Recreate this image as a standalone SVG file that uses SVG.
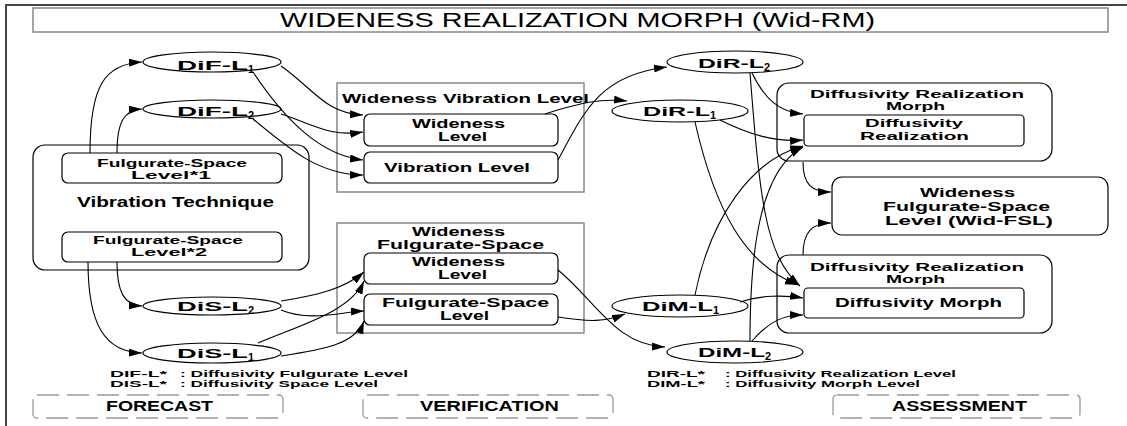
<svg xmlns="http://www.w3.org/2000/svg" width="1127" height="426" viewBox="0 0 1127 426">
<style>
.t{font-family:"Liberation Sans",Arial,sans-serif;font-weight:bold;fill:#000}
.n{font-weight:normal}
.e{font-family:"Liberation Sans",Arial,sans-serif;font-weight:bold;fill:#000;font-size:13px}
.sub{font-size:11px;fill:#000}
.box{fill:#fff;stroke:#000;stroke-width:1.2}
.gbox{fill:none;stroke:#888;stroke-width:1.5}
.ell{fill:#fff;stroke:#000;stroke-width:1.2}
.dash{fill:none;stroke:#999;stroke-width:1.3;stroke-dasharray:22 8}
.c path{fill:none;stroke:#000;stroke-width:1.1;marker-end:url(#ah)}
</style>
<defs>
<marker id="ah" markerUnits="userSpaceOnUse" markerWidth="14" markerHeight="10" refX="13" refY="4" orient="auto">
<path d="M0,0 L13,4 L0,8 z" fill="#000"/>
</marker>
</defs>
<rect width="1127" height="426" fill="#fff"/>
<path d="M6,426 V5 H1127" fill="none" stroke="#444" stroke-width="2"/>
<g id="title">
<rect x="33" y="8" width="1075" height="24" fill="#fff" stroke="#888" stroke-width="1.5"/>
<text class="t n" x="280" y="27" font-size="20" textLength="595" lengthAdjust="spacingAndGlyphs">WIDENESS REALIZATION MORPH (Wid-RM)</text>
</g>
<g id="vibration-technique">
<rect class="box" x="33" y="145" width="276" height="125" rx="12"/>
<rect class="box" x="62" y="153" width="220" height="30" rx="6"/>
<text class="t" x="97" y="167" font-size="11" textLength="150" lengthAdjust="spacingAndGlyphs">Fulgurate-Space</text>
<text class="t" x="131" y="179" font-size="11" textLength="80" lengthAdjust="spacingAndGlyphs">Level*1</text>
<text class="t" x="77" y="207" font-size="14" textLength="197" lengthAdjust="spacingAndGlyphs">Vibration Technique</text>
<rect class="box" x="62" y="232" width="220" height="30" rx="6"/>
<text class="t" x="93" y="244" font-size="11" textLength="150" lengthAdjust="spacingAndGlyphs">Fulgurate-Space</text>
<text class="t" x="131" y="256" font-size="11" textLength="76" lengthAdjust="spacingAndGlyphs">Level*2</text>
</g>
<g id="dif-l1">
<ellipse class="ell" cx="212" cy="62" rx="69" ry="10"/>
<text class="e" x="177" y="70"><tspan textLength="71" lengthAdjust="spacingAndGlyphs">DiF-L</tspan><tspan class="sub" dy="3">1</tspan></text>
</g>
<g id="dif-l2">
<ellipse class="ell" cx="212" cy="109" rx="69" ry="9"/>
<text class="e" x="177" y="116"><tspan textLength="71" lengthAdjust="spacingAndGlyphs">DiF-L</tspan><tspan class="sub" dy="3">2</tspan></text>
</g>
<g id="dis-l2">
<ellipse class="ell" cx="212" cy="306" rx="69" ry="9"/>
<text class="e" x="177" y="311"><tspan textLength="71" lengthAdjust="spacingAndGlyphs">DiS-L</tspan><tspan class="sub" dy="3">2</tspan></text>
</g>
<g id="dis-l1">
<ellipse class="ell" cx="212" cy="353" rx="69" ry="10"/>
<text class="e" x="177" y="358"><tspan textLength="71" lengthAdjust="spacingAndGlyphs">DiS-L</tspan><tspan class="sub" dy="3">1</tspan></text>
</g>
<g id="wideness-vibration-level">
<rect class="gbox" x="337" y="83" width="247" height="109"/>
<text class="t" x="342" y="103" font-size="13" textLength="247" lengthAdjust="spacingAndGlyphs">Wideness Vibration Level</text>
<rect class="box" x="364" y="114" width="194" height="32" rx="6"/>
<text class="t" x="412" y="128" font-size="12" textLength="93" lengthAdjust="spacingAndGlyphs">Wideness</text>
<text class="t" x="438" y="141" font-size="12" textLength="49" lengthAdjust="spacingAndGlyphs">Level</text>
<rect class="box" x="364" y="152" width="194" height="31" rx="6"/>
<text class="t" x="384" y="172" font-size="13" textLength="146" lengthAdjust="spacingAndGlyphs">Vibration Level</text>
</g>
<g id="wideness-fulgurate-space">
<rect class="gbox" x="337" y="223" width="247" height="110"/>
<text class="t" x="412" y="236" font-size="12" textLength="93" lengthAdjust="spacingAndGlyphs">Wideness</text>
<text class="t" x="377" y="249" font-size="12" textLength="167" lengthAdjust="spacingAndGlyphs">Fulgurate-Space</text>
<rect class="box" x="364" y="253" width="194" height="31" rx="6"/>
<text class="t" x="412" y="266" font-size="12" textLength="93" lengthAdjust="spacingAndGlyphs">Wideness</text>
<text class="t" x="438" y="279" font-size="12" textLength="49" lengthAdjust="spacingAndGlyphs">Level</text>
<rect class="box" x="364" y="294" width="194" height="31" rx="6"/>
<text class="t" x="382" y="307" font-size="12" textLength="167" lengthAdjust="spacingAndGlyphs">Fulgurate-Space</text>
<text class="t" x="440" y="320" font-size="12" textLength="49" lengthAdjust="spacingAndGlyphs">Level</text>
</g>
<g id="dir-l2">
<ellipse class="ell" cx="735" cy="62" rx="68" ry="11"/>
<text class="e" x="698" y="68"><tspan textLength="66" lengthAdjust="spacingAndGlyphs">DiR-L</tspan><tspan class="sub" dy="3">2</tspan></text>
</g>
<g id="dir-l1">
<ellipse class="ell" cx="680" cy="111" rx="68" ry="11"/>
<text class="e" x="643" y="116"><tspan textLength="67" lengthAdjust="spacingAndGlyphs">DiR-L</tspan><tspan class="sub" dy="3">1</tspan></text>
</g>
<g id="dim-l1">
<ellipse class="ell" cx="680" cy="306" rx="68" ry="11"/>
<text class="e" x="642" y="311"><tspan textLength="71" lengthAdjust="spacingAndGlyphs">DiM-L</tspan><tspan class="sub" dy="3">1</tspan></text>
</g>
<g id="dim-l2">
<ellipse class="ell" cx="735" cy="352" rx="68" ry="11"/>
<text class="e" x="698" y="357"><tspan textLength="67" lengthAdjust="spacingAndGlyphs">DiM-L</tspan><tspan class="sub" dy="3">2</tspan></text>
</g>
<g id="drm-top">
<rect class="box" x="777" y="83" width="275" height="78" rx="12"/>
<text class="t" x="810" y="98" font-size="11" textLength="214" lengthAdjust="spacingAndGlyphs">Diffusivity Realization</text>
<text class="t" x="886" y="110" font-size="11" textLength="59" lengthAdjust="spacingAndGlyphs">Morph</text>
<rect class="box" x="804" y="115" width="220" height="31" rx="4"/>
<text class="t" x="865" y="127" font-size="11" textLength="98" lengthAdjust="spacingAndGlyphs">Diffusivity</text>
<text class="t" x="860" y="140" font-size="11" textLength="109" lengthAdjust="spacingAndGlyphs">Realization</text>
</g>
<g id="wid-fsl">
<rect class="box" x="832" y="177" width="276" height="58" rx="10"/>
<text class="t" x="920" y="197" font-size="12" textLength="95" lengthAdjust="spacingAndGlyphs">Wideness</text>
<text class="t" x="883" y="211" font-size="12" textLength="167" lengthAdjust="spacingAndGlyphs">Fulgurate-Space</text>
<text class="t" x="885" y="225" font-size="12" textLength="168" lengthAdjust="spacingAndGlyphs">Level (Wid-FSL)</text>
</g>
<g id="drm-bottom">
<rect class="box" x="777" y="255" width="275" height="78" rx="12"/>
<text class="t" x="810" y="271" font-size="11" textLength="214" lengthAdjust="spacingAndGlyphs">Diffusivity Realization</text>
<text class="t" x="886" y="283" font-size="11" textLength="59" lengthAdjust="spacingAndGlyphs">Morph</text>
<rect class="box" x="804" y="288" width="220" height="30" rx="4"/>
<text class="t" x="835" y="307" font-size="13" textLength="167" lengthAdjust="spacingAndGlyphs">Diffusivity Morph</text>
</g>
<g id="legend">
<text class="t" x="110" y="377" font-size="9" textLength="57" lengthAdjust="spacingAndGlyphs">DIF-L*</text>
<text class="t" x="180" y="377" font-size="9" textLength="228" lengthAdjust="spacingAndGlyphs">: Diffusivity  Fulgurate Level</text>
<text class="t" x="110" y="387" font-size="9" textLength="57" lengthAdjust="spacingAndGlyphs">DIS-L*</text>
<text class="t" x="180" y="387" font-size="9" textLength="198" lengthAdjust="spacingAndGlyphs">: Diffusivity Space Level</text>
<text class="t" x="647" y="377" font-size="9" textLength="58" lengthAdjust="spacingAndGlyphs">DIR-L*</text>
<text class="t" x="725" y="377" font-size="9" textLength="231" lengthAdjust="spacingAndGlyphs">: Diffusivity Realization Level</text>
<text class="t" x="647" y="387" font-size="9" textLength="58" lengthAdjust="spacingAndGlyphs">DIM-L*</text>
<text class="t" x="725" y="387" font-size="9" textLength="195" lengthAdjust="spacingAndGlyphs">: Diffusivity Morph Level</text>
</g>
<g id="forecast">
<rect class="dash" x="33" y="395" width="250" height="23" rx="4"/>
<text class="t" x="106" y="411" font-size="14" textLength="107" lengthAdjust="spacingAndGlyphs">FORECAST</text>
</g>
<g id="verification">
<rect class="dash" x="363" y="395" width="250" height="23" rx="4"/>
<text class="t" x="420" y="411" font-size="14" textLength="139" lengthAdjust="spacingAndGlyphs">VERIFICATION</text>
</g>
<g id="assessment">
<rect class="dash" x="833" y="395" width="247" height="23" rx="4"/>
<text class="t" x="892" y="411" font-size="14" textLength="135" lengthAdjust="spacingAndGlyphs">ASSESSMENT</text>
</g>
<g id="connectors" class="c">
<path d="M90,153 C90,85 105,64 142,62"/>
<path d="M117,153 C117,122 124,110 142,109"/>
<path d="M281,66 C315,90 325,113 363,115"/>
<path d="M253,72 C285,120 320,155 363,160"/>
<path d="M281,114 C315,125 330,137 363,132"/>
<path d="M253,119 C290,150 320,175 363,175"/>
<path d="M117,262 C117,292 124,305 142,306"/>
<path d="M88,262 C88,325 105,352 142,353"/>
<path d="M281,301 C320,295 345,288 364,272"/>
<path d="M258,343 C300,325 350,312 364,281"/>
<path d="M281,310 C310,322 340,312 364,311"/>
<path d="M281,356 C320,350 355,345 364,321"/>
<path d="M545,114 C580,103 600,98 627,101"/>
<path d="M558,160 C585,110 600,75 667,67"/>
<path d="M558,270 C595,300 615,345 665,347"/>
<path d="M558,317 C590,322 605,322 625,314"/>
<path d="M752,73 C765,100 780,112 803,114"/>
<path d="M720,120 C750,135 775,142 803,140"/>
<path d="M695,295 C710,220 750,160 803,146"/>
<path d="M750,341 C750,250 760,170 803,147"/>
<path d="M695,122 C715,210 745,265 798,285"/>
<path d="M750,73 C760,200 765,255 800,286"/>
<path d="M740,302 C760,295 785,295 803,298"/>
<path d="M752,341 C770,320 785,315 803,315"/>
<path d="M803,162 C803,185 812,192 831,192"/>
<path d="M803,255 C803,232 812,223 831,223"/>
</g>
</svg>
